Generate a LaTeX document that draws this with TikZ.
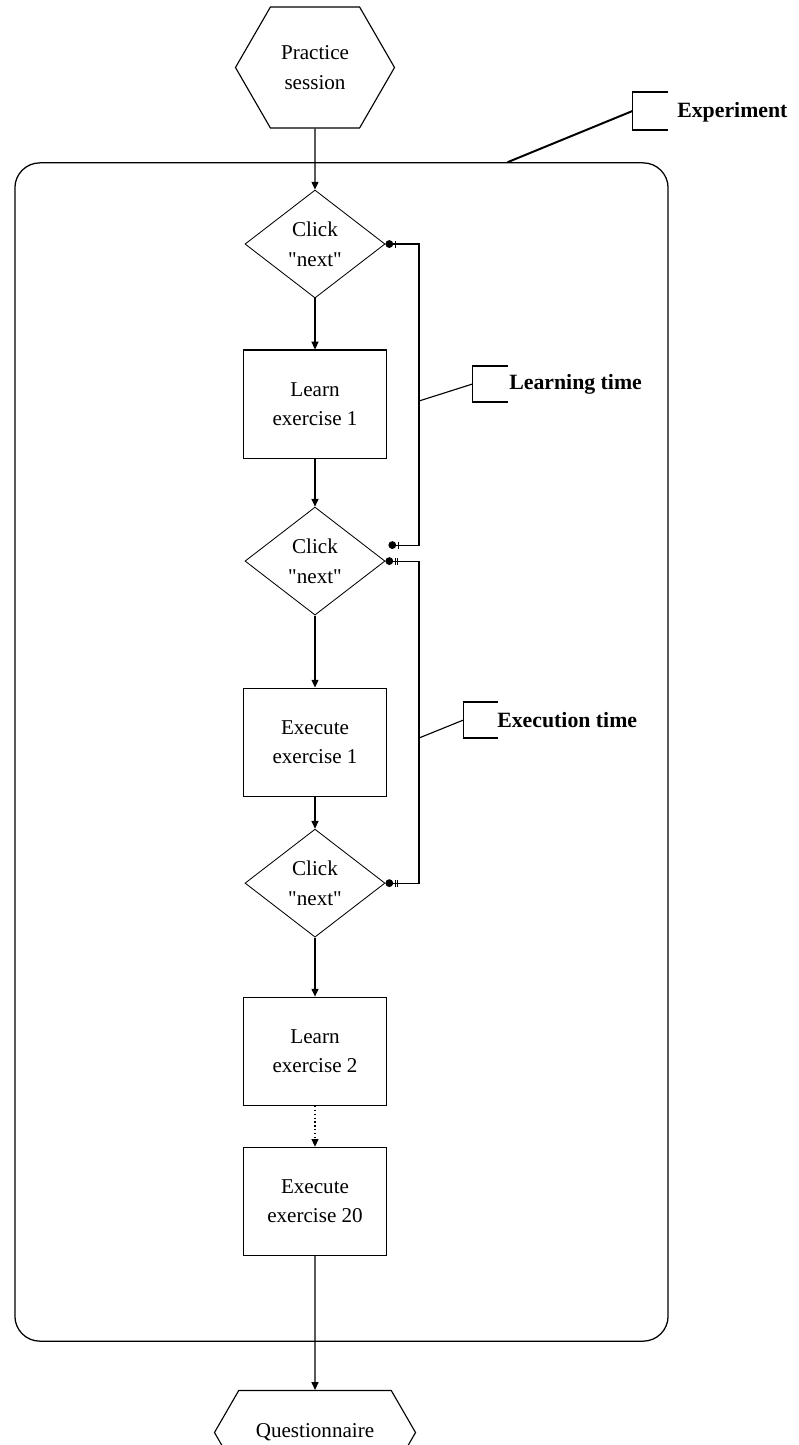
\documentclass[tikz,border=0pt]{standalone}
\usepackage{fontspec}
\setmainfont{Liberation Serif}
\usetikzlibrary{shapes.geometric, shapes.symbols, arrows.meta, positioning, calc}
\tikzstyle{task} = [rectangle, draw=black, line width=0.8pt, minimum width=3.575cm,
minimum height=2.7cm, text centered, align=center]
\tikzstyle{click} = [diamond, draw=black, line width=0.6pt, minimum width=3.5cm,
minimum height=2.7cm, inner sep=0pt, align=center]
\tikzstyle{hexa} = [signal, signal to=east and west, signal pointer angle=120,
draw=black, line width=0.8pt, align=center, inner sep=0pt]
\tikzstyle{frame} = [draw=black, line width=0.9pt, rounded corners=0.625cm]
\tikzstyle{arrow} = [line width=0.8pt, -{Triangle[length=5.5pt, width=5pt]}]
\tikzstyle{timing} = [line width=0.8pt]
\tikzstyle{tag} = [font=\fontsize{15.5}{18}\selectfont\bfseries, anchor=west, inner sep=0pt]

\begin{document}
\begin{tikzpicture}[x=0.025cm, y=-0.025cm, font=\fontsize{15}{21}\selectfont]
        \useasboundingbox (0,0) rectangle (799,1445);
        % main flow
        \node (P) [hexa, minimum width=3.975cm, minimum height=3.025cm] at (315,67.5) {Practice\\session};
        \node (C1) [click, below=1.525cm of P] {Click\\\textquotedbl next\textquotedbl};
        \node (L1) [task, below=1.275cm of C1] {Learn\\exercise 1};
        \node (C2) [click, below=1.2cm of L1] {Click\\\textquotedbl next\textquotedbl};
        \node (E1) [task, below=1.8cm of C2] {Execute\\exercise 1};
        \node (C3) [click, below=0.8cm of E1] {Click\\\textquotedbl next\textquotedbl};
        \node (L2) [task, below=1.475cm of C3] {Learn\\exercise 2};
        \node (E20) [task, below=1.025cm of L2] {Execute\\exercise 20};
        \node (Q) [hexa, minimum width=5.025cm, minimum height=2.1cm, below=3.35cm of E20] {Questionnaire};
        \node (X) [frame, minimum width=16.325cm, minimum height=29.45cm] at (341.5,752) {};

        \draw [arrow] (P) -- (C1);
        \draw [arrow] (C1) -- (L1);
        \draw [arrow] (L1) -- (C2);
        \draw [arrow] (C2) -- (E1);
        \draw [arrow] (E1) -- (C3);
        \draw [arrow] (C3) -- (L2);
        \draw [arrow, dotted] (L2) -- (E20);
        \draw [arrow] (E20) -- (Q);

        % time measurements
        \coordinate (tx) at (419,0);
        \coordinate (lt) at ([xshift=0.075cm, yshift=0.4cm]C2.east);
        \draw [timing, {Circle[length=5.5pt] Bar[width=5pt, sep=1pt]}-{Bar[width=5pt, sep=1pt] Circle[length=5.5pt]}]
              (C1.east) -- (C1.east -| tx) |- (lt);
        \draw [timing, {Circle[length=5.5pt] Bar[width=5pt, sep=1pt] Bar[width=5pt, sep=1pt]}-{Bar[width=5pt, sep=1pt] Bar[width=5pt, sep=1pt] Circle[length=5.5pt]}]
              (C2.east) -- (C2.east -| tx) |- (C3.east);

        % labels with brackets
        \node (LT) [tag] at (509,384) {Learning time};
        \node (ET) [tag] at (497,720) {Execution time};
        \node (EX) [tag] at (677,112) {Experiment};
        \coordinate (ltb) at (472.5,384);
        \coordinate (etb) at (463.5,720);
        \coordinate (exb) at (632.5,111);
        \draw [timing] (tx |- 0,401) -- (ltb);
        \draw [timing] (ltb) ++(35,-18) -- ++(-35,0) -- ++(0,36) -- ++(35,0);
        \draw [timing] (tx |- 0,738) -- (etb);
        \draw [timing] (etb) ++(34,-18) -- ++(-34,0) -- ++(0,36) -- ++(34,0);
        \draw [line width=1.4pt] ([xshift=4.15cm]X.north) -- (exb);
        \draw [line width=1.4pt] (exb) ++(35,-19) -- ++(-35,0) -- ++(0,38) -- ++(35,0);

    \end{tikzpicture}
\end{document}
